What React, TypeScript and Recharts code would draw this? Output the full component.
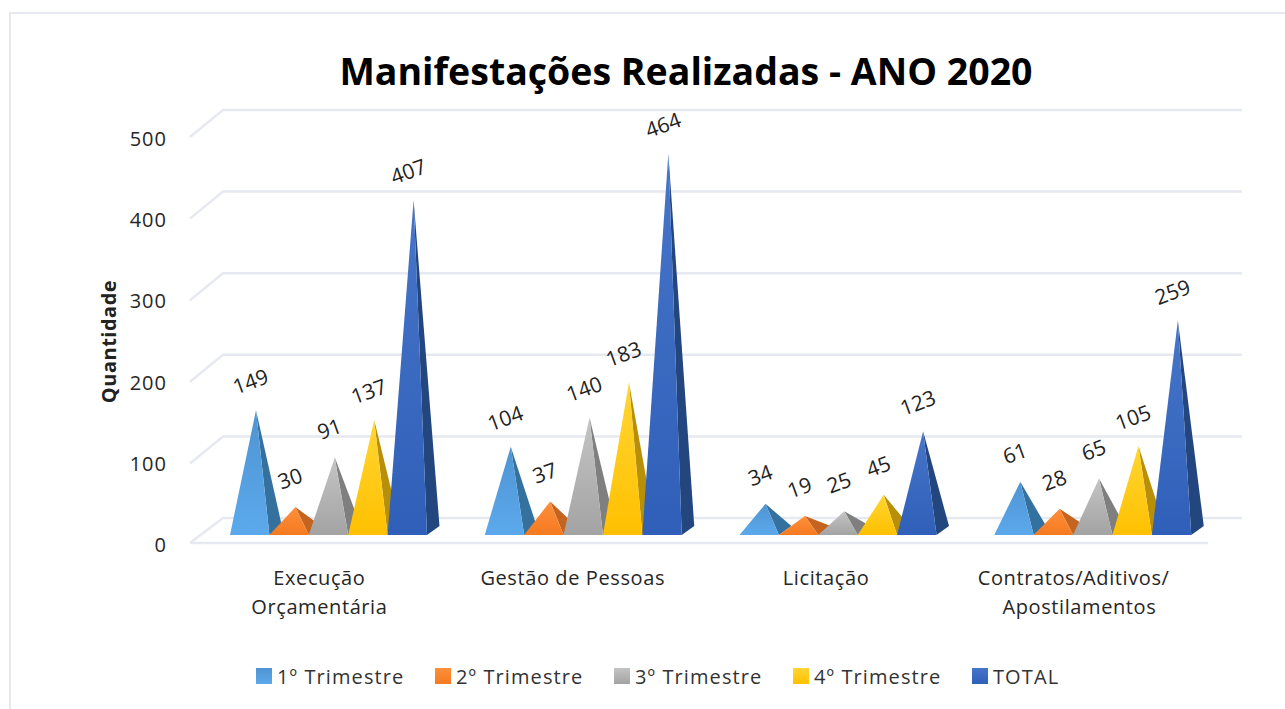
import React from 'react';
import { BarChart, Bar, XAxis, YAxis, ReferenceLine, Legend, LabelList } from 'recharts';

const categories = ['Execução\nOrçamentária', 'Gestão de Pessoas', 'Licitação', 'Contratos/Aditivos/  \nApostilamentos'];
const q1 = [149, 104, 34, 61];
const q2 = [30, 37, 19, 28];
const q3 = [91, 140, 25, 65];
const q4 = [137, 183, 45, 105];
const total = [407, 464, 123, 259];
const yTicks = [0, 100, 200, 300, 400, 500];
const TITLE = 'Manifestações Realizadas - ANO 2020';
const FONT = '"Open Sans", sans-serif';

const seriesInfo = [
  { key: 'q1', name: '1º Trimestre', values: q1, top: '#4f94d2', bottom: '#5ba9ec', side: '#34719f' },
  { key: 'q2', name: '2º Trimestre', values: q2, top: '#ff8f3c', bottom: '#f47a20', side: '#c5641f' },
  { key: 'q3', name: '3º Trimestre', values: q3, top: '#c4c4c4', bottom: '#a3a3a3', side: '#7f7f7f' },
  { key: 'q4', name: '4º Trimestre', values: q4, top: '#ffd633', bottom: '#ffc000', side: '#b78f08' },
  { key: 'total', name: 'TOTAL', values: total, top: '#4675c9', bottom: '#2f5fb8', side: '#24467f' },
];

const data = categories.map((category, i) => {
  const row: Record<string, string | number> = { category };
  seriesInfo.forEach((s) => { row[s.key] = s.values[i]; });
  return row;
});

const Pyramid = (props: any) => {
  const { x, y, width, height, gradId, side } = props;
  const base = y + height + 3.5;
  const apexX = x + width * 0.66;
  return (
    <g>
      <polygon points={`${x + width},${base} ${x + width + 12.5},${base - 9} ${apexX},${y}`} fill={side} />
      <polygon points={`${x},${base} ${x + width},${base} ${apexX},${y}`} fill={`url(#${gradId})`} />
    </g>
  );
};

const RotatedLabel = (props: any) => {
  const { x, y, width, value } = props;
  const cx = x + width * 0.66 - 5.5;
  const cy = y - 29;
  return (
    <text x={cx} y={cy} textAnchor="middle" dominantBaseline="central" transform={`rotate(-20 ${cx} ${cy})`}
      fontFamily={FONT} fontSize={21} fill="#222">{value}</text>
  );
};

const WallLine = (props: any) => {
  const { x1, x2, y1, isFloor } = props;
  const stroke = '#e6e9ef';
  return (
    <g fill="none" stroke={stroke} strokeWidth={2.5}>
      <path d={`M${x1 - 11},${y1 + (isFloor ? 25 : 27)} L${x1 + 22},${y1} L${x2 + 22},${y1}`} />
      {isFloor ? <path d={`M${x1 - 11},${y1 + 25} L${x2 - 12},${y1 + 25}`} /> : null}
    </g>
  );
};

const CategoryTick = (props: any) => {
  const { x, payload, index } = props;
  const lines = String(payload.value).split('\n');
  const cx = x - 9 - (index || 0) * 1.4;
  return (
    <text textAnchor="middle" fontFamily={FONT} fontSize={20} letterSpacing={0.6} fill="#262626" style={{ whiteSpace: 'pre' }}>
      {lines.map((l, i) => (
        <tspan key={l} x={cx} y={585 + i * 29}>{l}</tspan>
      ))}
    </text>
  );
};

const LegendContent = () => (
  <div style={{ position: 'relative', height: 30, width: 1285 }}>
    {seriesInfo.map((s, i) => (
      <div key={s.key} style={{ position: 'absolute', left: 256 + i * 179, top: 0, display: 'flex', alignItems: 'center', height: 30 }}>
        <span style={{ display: 'inline-block', width: 16, height: 16, marginRight: 5, background: `linear-gradient(${s.top}, ${s.bottom})` }} />
        <span style={{ fontFamily: FONT, fontSize: 20, letterSpacing: 1.1, color: '#333', whiteSpace: 'nowrap' }}>{s.name}</span>
      </div>
    ))}
  </div>
);

export default function App() {
  return (
    <div style={{ position: 'absolute', left: 0, top: 0, width: 1285, height: 709, background: '#fff', overflow: 'hidden' }}>
      <div style={{ position: 'absolute', left: 9, top: 12, right: -5, bottom: -5, borderTop: '2px solid #e6e9ef', borderLeft: '2px solid #e6e9ef' }} />
      <div style={{ position: 'absolute', left: 0, width: 1372, top: 45, textAlign: 'center', fontFamily: FONT, fontWeight: 700, fontSize: 37.5, color: '#000', whiteSpace: 'nowrap' }}>{TITLE}</div>
      <div style={{ position: 'absolute', left: 0, top: 0 }}>
        <BarChart width={1285} height={709} data={data} barGap={0} barSize={39.4}
          margin={{ top: 110, right: 65, bottom: 76, left: 111 }}>
          <defs>
            {seriesInfo.map((s) => (
              <linearGradient key={s.key} id={`grad-${s.key}`} x1="0" y1="0" x2="0" y2="1">
                <stop offset="0%" stopColor={s.top} />
                <stop offset="100%" stopColor={s.bottom} />
              </linearGradient>
            ))}
          </defs>
          <XAxis dataKey="category" height={60} axisLine={false} tickLine={false} tick={<CategoryTick />} interval={0} />
          <YAxis yAxisId="tick" width={90} domain={[0, 533.2]} allowDataOverflow ticks={yTicks} axisLine={false} tickLine={false}
            tickMargin={34} tick={{ fontFamily: FONT, fontSize: 20, letterSpacing: 1, fill: '#262626', dx: 66, dy: 2 }}
            label={{ value: 'Quantidade', angle: -90, position: 'insideLeft', dx: 53, dy: 15, style: { fontFamily: FONT, fontWeight: 700, fontSize: 20, letterSpacing: 0.5, fill: '#222', textAnchor: 'middle' } }} />
          <YAxis yAxisId="bars" hide domain={[-14.1, 517.5]} allowDataOverflow />
          <YAxis yAxisId="wall" hide domain={[-30.6, 500]} allowDataOverflow />
          {yTicks.map((t) => (
            <ReferenceLine key={t} yAxisId="wall" y={t} ifOverflow="visible" zIndex={-10}
              shape={(p: any) => <WallLine {...p} isFloor={t === 0} />} />
          ))}
          {seriesInfo.map((s) => (
            <Bar key={s.key} yAxisId="bars" dataKey={s.key} name={s.name} fill={s.bottom} isAnimationActive={false}
              shape={(p: any) => <Pyramid {...p} gradId={`grad-${s.key}`} side={s.side} />}>
              <LabelList dataKey={s.key} content={<RotatedLabel />} />
            </Bar>
          ))}
          <Legend content={<LegendContent />} wrapperStyle={{ left: 0, top: 661, bottom: 'auto', width: 1285, height: 30 }} height={30} />
        </BarChart>
      </div>
    </div>
  );
}
